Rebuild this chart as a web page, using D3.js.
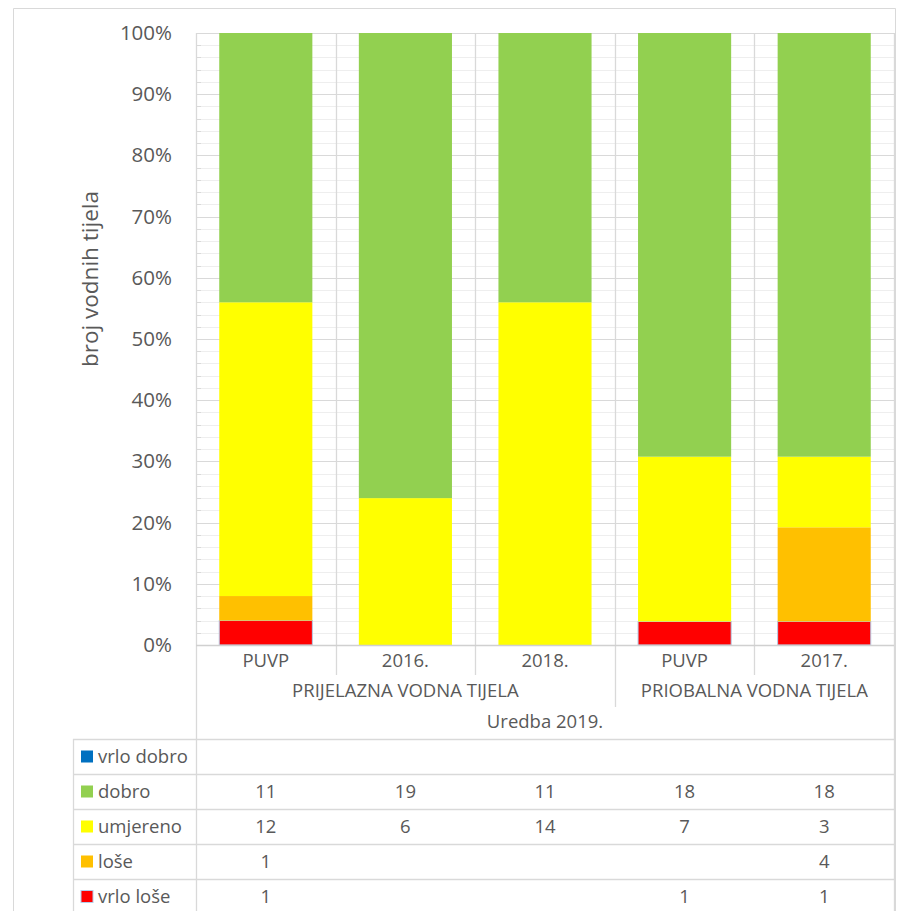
<!DOCTYPE html>
<html>
<head>
<meta charset="utf-8">
<script src="https://cdn.jsdelivr.net/npm/d3@7"></script>
<style>
  body { margin: 0; background: #fff; }
  text { font-family: "Open Sans", sans-serif; fill: #595959; }
</style>
</head>
<body>
<svg id="viz"></svg>
<script>
// categories and their groups
let categories = ["PUVP", "2016.", "2018.", "PUVP", "2017."];
let groupLabels = ["PRIJELAZNA VODNA TIJELA", "PRIOBALNA VODNA TIJELA"];
let groupSizes = [3, 2];
let topLabel = "Uredba 2019.";

// series, top row of the table first
let seriesNames = ["vrlo dobro", "dobro", "umjereno", "loše", "vrlo loše"];
let seriesColors = ["#0070c0", "#92d050", "#ffff00", "#ffc000", "#ff0000"];
let vrloDobro = [null, null, null, null, null];
let dobro = [11, 19, 11, 18, 18];
let umjereno = [12, 6, 14, 7, 3];
let lose = [1, null, null, null, 4];
let vrloLose = [1, null, null, 1, 1];
let seriesValues = [vrloDobro, dobro, umjereno, lose, vrloLose];

let yTicks = [0, 0.1, 0.2, 0.3, 0.4, 0.5, 0.6, 0.7, 0.8, 0.9, 1];

let width = 901;
let height = 911;

let plotLeft = 196, plotRight = 894, plotTop = 33, plotBottom = 645;
let tableLeft = 73, tableTop = 739, rowHeight = 35;
let gridColor = "#d9d9d9";
let labelSize = "18.5px";

let svg = d3.select("#viz").attr("width", width).attr("height", height);

// chart frame
svg.append("path")
    .attr("d", "M13.5," + (height + 5) + "V8.5H895.5V" + (height + 5))
    .attr("fill", "none").attr("stroke", gridColor);

let x = d3.scaleBand().domain(d3.range(categories.length)).range([plotLeft, plotRight]).padding(0);
let y = d3.scaleLinear().domain([0, 1]).range([plotBottom, plotTop]);
let step = x.bandwidth();

// minor gridlines
let minor = d3.range(0, 1.0001, 0.02).filter(v => Math.round(v * 50) % 5 !== 0);
svg.append("g").selectAll("line").data(minor).enter().append("line")
    .attr("x1", plotLeft).attr("x2", plotRight)
    .attr("y1", d => Math.round(y(d)) + 0.5).attr("y2", d => Math.round(y(d)) + 0.5)
    .attr("stroke", "#eeeeee");
svg.append("g").selectAll("line").data(minor).enter().append("line")
    .attr("x1", plotLeft).attr("x2", plotLeft + 5)
    .attr("y1", d => Math.round(y(d)) + 0.5).attr("y2", d => Math.round(y(d)) + 0.5)
    .attr("stroke", gridColor);

// major gridlines
svg.append("g").selectAll("line").data(yTicks).enter().append("line")
    .attr("x1", plotLeft).attr("x2", plotRight)
    .attr("y1", d => Math.round(y(d)) + 0.5).attr("y2", d => Math.round(y(d)) + 0.5)
    .attr("stroke", gridColor);

// vertical separators through the plot and the category rows
let seps = d3.range(categories.length + 1);
let groupEnds = Array.from(d3.cumsum(groupSizes));
svg.append("g").selectAll("line").data(seps).enter().append("line")
    .attr("x1", i => Math.round(plotLeft + i * step) + 0.5)
    .attr("x2", i => Math.round(plotLeft + i * step) + 0.5)
    .attr("y1", plotTop)
    .attr("y2", i => {
        if (i === 0 || i === categories.length) return height;
        if (groupEnds.includes(i)) return 707;
        return 675;
    })
    .attr("stroke", gridColor).attr("stroke-width", 1.3);

// stacked percent bars
let rows = categories.map((c, i) => {
    let r = { i: i };
    seriesNames.forEach((s, k) => { r[s] = seriesValues[k][i] || 0; });
    return r;
});
let stackKeys = seriesNames.slice().reverse();
let stacked = d3.stack().keys(stackKeys).offset(d3.stackOffsetExpand)(rows);
let color = d3.scaleOrdinal().domain(seriesNames).range(seriesColors);

let barW = step * 0.667;
svg.append("g").selectAll("g").data(stacked).enter().append("g")
    .attr("fill", d => color(d.key))
    .attr("stroke", d => d.key === "vrlo loše" ? "#b4cde8" : "none")
    .selectAll("rect").data(d => d.filter(p => p[1] - p[0] > 0)).enter().append("rect")
    .attr("x", d => x(d.data.i) + (step - barW) / 2)
    .attr("width", barW)
    .attr("y", d => y(d[1]))
    .attr("height", d => y(d[0]) - y(d[1]));

// y axis
let yAxis = d3.axisLeft(y).tickValues(yTicks).tickFormat(d3.format(".0%")).tickSize(0).tickPadding(24);
let ya = svg.append("g").attr("transform", "translate(" + plotLeft + ",0)").call(yAxis);
ya.select(".domain").remove();
ya.selectAll("text").style("font-size", "20.5px").attr("fill", "#595959").attr("font-family", "Open Sans");

svg.append("text")
    .attr("transform", "translate(98,279) rotate(-90)")
    .attr("text-anchor", "middle")
    .style("font-size", "22.5px")
    .text("broj vodnih tijela");

// axis line
svg.append("line")
    .attr("x1", plotLeft).attr("x2", plotRight)
    .attr("y1", plotBottom + 0.5).attr("y2", plotBottom + 0.5)
    .attr("stroke", "#d0d0d0").attr("stroke-width", 1.3);

// category labels
svg.append("g").selectAll("text").data(categories).enter().append("text")
    .attr("x", (d, i) => x(i) + step / 2)
    .attr("y", 667)
    .attr("text-anchor", "middle")
    .style("font-size", labelSize)
    .text(d => d);

// group labels
let groupStarts = [0].concat(groupEnds.slice(0, -1));
svg.append("g").selectAll("text").data(groupLabels).enter().append("text")
    .attr("x", (d, g) => plotLeft + (groupStarts[g] + groupSizes[g] / 2) * step)
    .attr("y", 697)
    .attr("text-anchor", "middle")
    .style("font-size", labelSize)
    .text(d => d);

svg.append("text")
    .attr("x", (plotLeft + plotRight) / 2)
    .attr("y", 728)
    .attr("text-anchor", "middle")
    .style("font-size", labelSize)
    .text(topLabel);

// data table
let table = svg.append("g");
seriesNames.forEach((s, k) => {
    table.append("line")
        .attr("x1", tableLeft).attr("x2", plotRight)
        .attr("y1", tableTop + k * rowHeight + 0.5).attr("y2", tableTop + k * rowHeight + 0.5)
        .attr("stroke", gridColor).attr("stroke-width", 1.3);
});
table.append("line")
    .attr("x1", tableLeft + 0.5).attr("x2", tableLeft + 0.5)
    .attr("y1", tableTop).attr("y2", height)
    .attr("stroke", gridColor).attr("stroke-width", 1.3);

seriesNames.forEach((s, k) => {
    let cy = tableTop + k * rowHeight + rowHeight / 2;
    table.append("rect")
        .attr("x", 81).attr("y", cy - 6).attr("width", 12).attr("height", 12)
        .attr("fill", seriesColors[k])
        .attr("stroke", s === "vrlo loše" ? "#b4cde8" : "none");
    table.append("text")
        .attr("x", 98).attr("y", cy).attr("dy", "0.35em")
        .style("font-size", labelSize)
        .text(s);
    table.append("g").selectAll("text").data(seriesValues[k]).enter().append("text")
        .attr("x", (d, i) => x(i) + step / 2)
        .attr("y", cy).attr("dy", "0.35em")
        .attr("text-anchor", "middle")
        .style("font-size", labelSize)
        .text(d => d == null ? "" : d);
});
</script>
</body>
</html>
